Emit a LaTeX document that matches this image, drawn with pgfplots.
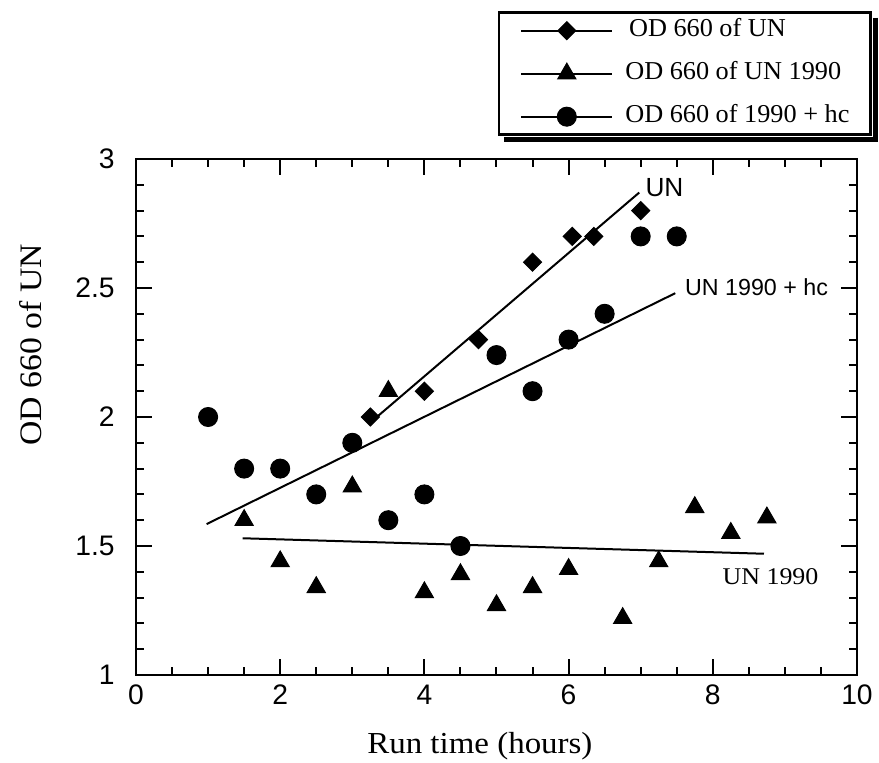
\documentclass[border=0pt]{standalone}
\usepackage{fontspec}
\setmainfont{Liberation Serif}[FakeStretch=1.08]
\newfontfamily\legfont{Liberation Serif}[FakeStretch=1.02]
\newfontfamily\ticksans{Liberation Sans}
\usepackage{pgfplots}
\pgfplotsset{compat=1.18}
\begin{document}
\begin{tikzpicture}
\path[use as bounding box] (0,0) rectangle (351.6pt,-305.2pt);
\begin{axis}[
  at={(54.4pt,-270pt)}, anchor=south west,
  scale only axis, width=288.4pt, height=206.4pt,
  xmin=0, xmax=10, ymin=1, ymax=3,
  xtick={0,2,4,6,8,10}, ytick={1,1.5,2,2.5,3},
  minor x tick num=3, minor y tick num=4,
  tick align=inside, major tick length=6.4pt, minor tick length=3.2pt,
  axis line style={line width=1pt},
  every tick/.style={line width=0.8pt, black},
  tick label style={font=\ticksans\fontsize{11.3}{13}\selectfont},
  /pgf/number format/assume math mode=true,
  yticklabel style={xshift=-5pt},
  xticklabel style={yshift=-0.5pt},
  xlabel={Run time (hours)},
  ylabel={OD 660 of UN},
  xlabel style={at={(axis description cs:0.477,-0.138)}, anchor=center, font=\fontsize{12.2}{14}\selectfont},
  ylabel style={at={(axis description cs:-0.1456,0.64)}, anchor=center, font=\fontsize{12.5}{14}\selectfont},
  legend style={at={(1.0208,1.286)}, anchor=north east, draw=black, line width=1pt, fill=white,
    name=legbox,
    font=\legfont\fontsize{10.3}{12}\selectfont, row sep=8pt, column sep=4.8pt,
    inner xsep=8.5pt, inner ysep=2.6pt,
    nodes={inner sep=0pt, text height=7pt, text depth=2.2pt}},
  legend cell align=left,
  legend image code/.code={\draw[black, line width=0.8pt] (0pt,0pt) -- (36.4pt,0pt); \draw[#1] plot coordinates {(18.2pt,0pt)};},
]
% fit lines
\addplot[black, line width=0.8pt, forget plot] coordinates {(3.34,2.0) (6.98,2.87)};
\addplot[black, line width=0.8pt, forget plot] coordinates {(0.98,1.585) (7.48,2.48)};
\addplot[black, line width=0.8pt, forget plot] coordinates {(1.48,1.53) (8.71,1.47)};
% UN (diamonds)
\addplot[only marks, mark=square*, mark size=2.55pt, mark options={rotate=45, fill=black, draw=black, line width=0.4pt}] coordinates {
(3.25,2.0) (4,2.1) (4.75,2.3) (5.5,2.6) (6.05,2.7) (6.35,2.7) (7,2.8)};
\addlegendentry{\hspace{1.5pt}OD 660 of UN}
% UN 1990 (triangles)
\addplot[only marks, mark=triangle*, mark size=4.2pt, mark options={fill=black, draw=black, line width=0.4pt}] coordinates {
(1.5,1.6) (2,1.44) (2.5,1.34) (3,1.73) (3.5,2.1) (4,1.32) (4.5,1.39) (5,1.27) (5.5,1.34) (6,1.41) (6.75,1.22) (7.25,1.44) (7.75,1.65) (8.25,1.55) (8.75,1.61)};
\addlegendentry{OD 660 of UN 1990}
% 1990 + hc (circles)
\addplot[only marks, mark=*, mark size=3.8pt, mark options={fill=black, draw=black, line width=0.4pt}] coordinates {
(1,2.0) (1.5,1.8) (2,1.8) (2.5,1.7) (3,1.9) (3.5,1.6) (4,1.7) (4.5,1.5) (5,2.24) (5.5,2.1) (6,2.3) (6.5,2.4) (7,2.7) (7.5,2.7)};
\addlegendentry{OD 660 of 1990 + hc}
% curve labels
\node[anchor=west, inner sep=0pt, font=\ticksans\fontsize{10.5}{11}\selectfont] at (axis cs:7.06,2.89) {UN};
\node[anchor=west, inner sep=0pt, font=\ticksans\fontsize{9.3}{10}\selectfont] at (axis cs:7.61,2.504) {UN 1990 + hc};
\node[anchor=west, inner sep=0pt, font=\fontsize{9.6}{10}\selectfont] at (axis cs:8.13,1.38) {UN 1990};
\end{axis}
% legend drop shadow (right and bottom)
\draw[black, line width=2pt]
  ([xshift=1.5pt, yshift=-2.5pt]legbox.north east) -- ([xshift=1.5pt, yshift=-1.5pt]legbox.south east)
  -- ([xshift=2.5pt, yshift=-1.5pt]legbox.south west);
\end{tikzpicture}
\end{document}
